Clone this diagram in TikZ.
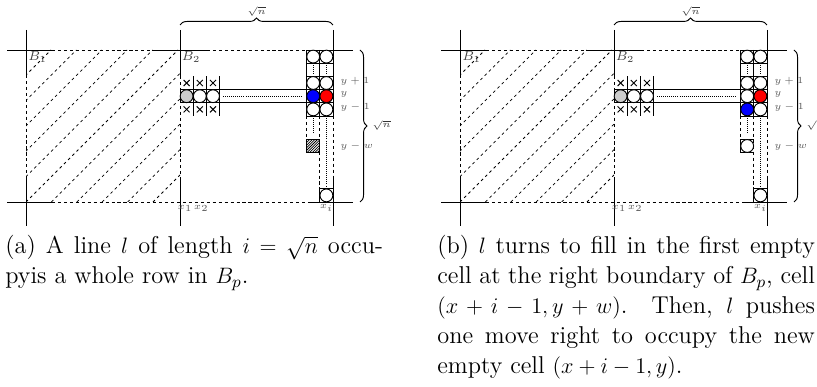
\documentclass[tikz,border=0pt]{standalone}
\usetikzlibrary{decorations.pathreplacing}
\tikzset{
  bline/.style={line width=0.45pt},
  dline/.style={line width=0.45pt, dash pattern=on 1.7pt off 1.5pt},
  hline/.style={line width=0.4pt, dash pattern=on 1.5pt off 1.7pt},
  dotline/.style={line width=0.4pt, dash pattern=on 0.35pt off 0.75pt},
  gridline/.style={line width=0.4pt},
  token/.style={circle, draw, line width=0.5pt, minimum size=6.9pt, inner sep=0pt, fill=white},
  lab/.style={font=\tiny, text=black!65, inner sep=0.5pt},
  blab/.style={font=\scriptsize, text=black!75, inner sep=0pt, anchor=north west},
  xmark/.style={line width=0.5pt},
  bracestyle/.style={decorate, decoration={brace, amplitude=3.8pt}, line width=0.5pt},
  captext/.style={anchor=base west, inner sep=0pt},
}
\newcommand\drawpanel[1]{%
  % block boundary lines
  \draw[bline] (7,50) -- (52,50);
  \draw[dline] (52,50) -- (152,50);
  \draw[bline] (152,50) -- (207,50);
  \draw[dline] (207,50) -- (308,50);
  \draw[bline] (308,50) -- (353,50);
  \draw[bline] (7,202) -- (52,202);
  \draw[dline] (52,202) -- (308,202);
  \draw[bline] (308,202) -- (353,202);
  \draw[bline] (26,30) -- (26,75);
  \draw[dline] (26,75) -- (26,178);
  \draw[bline] (26,178) -- (26,226);
  \draw[bline] (180,30) -- (180,76);
  \draw[dline] (180,76) -- (180,178);
  \draw[bline] (180,178) -- (180,226);
  \draw[bline] (333,30) -- (333,50);
  \draw[dline] (333,116) -- (333,178);
  \draw[bline] (333,178) -- (333,226);
  % hatched block B1
  \begin{scope}
    \clip (26,50) rectangle (180,202);
    \foreach \k in {0,...,10} {
      \pgfmathsetmacro\cc{101+25.4*\k}
      \draw[hline] ({\cc-202},202) -- ({\cc-50},50);
    }
  \end{scope}
  \node[blab] (#1-B1) at (28,51.5) {$B_1$};
  \node[blab] (#1-B2) at (181.5,51.5) {$B_2$};
  % braces
  \coordinate (#1-bt1) at (180,25);
  \coordinate (#1-bt2) at (333,25);
  \draw[bracestyle] (#1-bt1) -- (#1-bt2);
  \node[lab, text=black!80] (#1-sqn1) at (256.5,11.5) {$\sqrt{n}$};
  \coordinate (#1-br1) at (360,50);
  \coordinate (#1-br2) at (360,202);
  \draw[bracestyle] (#1-br1) -- (#1-br2);
  \node[lab, text=black!80, anchor=west] (#1-sqn2) at (371,125) {$\sqrt{n}$};
  % the row of line l
  \draw[bline] (180,89.6) rectangle (306.6,102.8);
  \foreach \xx in {193.2,206.4,219.6} {\draw[gridline] (\xx,76.4) -- (\xx,116);}
  \foreach \cx in {186.6,199.8,213} {
    \foreach \cy in {83,109.4} {
      \draw[xmark] ({\cx-3},{\cy-3}) -- ({\cx+3},{\cy+3});
      \draw[xmark] ({\cx-3},{\cy+3}) -- ({\cx+3},{\cy-3});
    }
  }
  \node[token, fill=black!20] (#1-r1) at (186.6,96.2) {};
  \node[token] (#1-r2) at (199.8,96.2) {};
  \node[token] (#1-r3) at (213,96.2) {};
  \draw[dotline] (223,96.2) -- (301,96.2);
  % right columns
  \draw[gridline] (306.6,50) rectangle (333,116);
  \draw[gridline] (319.8,50) -- (319.8,116);
  \foreach \yy in {63.2,76.4,89.6,102.8} {\draw[gridline] (306.6,\yy) -- (333,\yy);}
  \draw[dotline] (313.2,65) -- (313.2,75);
  \draw[dotline] (326.4,65) -- (326.4,75);
  \node[token] (#1-c01) at (313.2,56.6) {};
  \node[token] (#1-c02) at (326.4,56.6) {};
  \node[token] (#1-c21) at (313.2,83) {};
  \node[token] (#1-c22) at (326.4,83) {};
  % below
  \draw[dline] (306.6,116) -- (306.6,139.4);
  \draw[dline] (319.8,116) -- (319.8,188.8);
  \draw[dotline] (313.2,118) -- (313.2,134);
  \draw[dotline] (326.4,118) -- (326.4,186);
  \draw[bline] (319.8,188.8) rectangle (333,202);
  \node[token] (#1-cb) at (326.4,195.4) {};
  % labels
  \node[lab, anchor=west] (#1-yp) at (339,81) {$y+1$};
  \node[lab, anchor=west] (#1-y) at (339,94) {$y$};
  \node[lab, anchor=west] (#1-ym) at (339,107) {$y-1$};
  \node[lab, anchor=west] (#1-yw) at (339,146.5) {$y-w$};
  \node[lab] (#1-x1) at (185,208.5) {$x_1$};
  \node[lab] (#1-x2) at (201.2,208.5) {$x_2$};
  \node[lab] (#1-xi) at (326.4,208.5) {$x_i$};
}
\newcommand\capfont{\fontsize{13.1}{16.1}\selectfont}
\begin{document}
\begin{tikzpicture}[x=0.5376pt,y=-0.5376pt]
\useasboundingbox (0,0) rectangle (817,387);
% panel (a)
\begin{scope}
  \drawpanel{a}
  \node[token, fill=blue] (a-c31) at (313.2,96.2) {};
  \node[token, fill=red] (a-c32) at (326.4,96.2) {};
  \node[token] (a-c41) at (313.2,109.4) {};
  \node[token] (a-c42) at (326.4,109.4) {};
  \begin{scope}
    \clip (306.6,139.4) rectangle (319.8,152.6);
    \foreach \cc in {444,446.6,...,476} {\draw[line width=0.4pt] ({\cc-165},165) -- ({\cc-125},125);}
  \end{scope}
  \draw[bline] (306.6,139.4) rectangle (319.8,152.6);
\end{scope}
% panel (b)
\begin{scope}[shift={(434,0)}]
  \drawpanel{b}
  \node[token] (b-c31) at (313.2,96.2) {};
  \node[token, fill=red] (b-c32) at (326.4,96.2) {};
  \node[token, fill=blue] (b-c41) at (313.2,109.4) {};
  \node[token] (b-c42) at (326.4,109.4) {};
  \draw[bline] (319.8,139.4) -- (306.6,139.4) -- (306.6,152.6) -- (319.8,152.6);
  \node[token] (b-cw) at (313.2,146) {};
\end{scope}
% captions
\node[captext] (capa) at (5,254) {\parbox[t]{203pt}{\capfont (a) A line $l$ of length $i=\sqrt{n}$ occu-\linebreak pyis a whole row in $B_p$.}};
\node[captext] (capb) at (437,254) {\parbox[t]{203pt}{\capfont (b) $l$ turns to fill in the first empty\linebreak cell at the right boundary of $B_p$, cell\linebreak $(x+i-1,y+w)$. Then, $l$ pushes\linebreak one move right to occupy the new\linebreak empty cell $(x+i-1,y)$.}};
\end{tikzpicture}
\end{document}
